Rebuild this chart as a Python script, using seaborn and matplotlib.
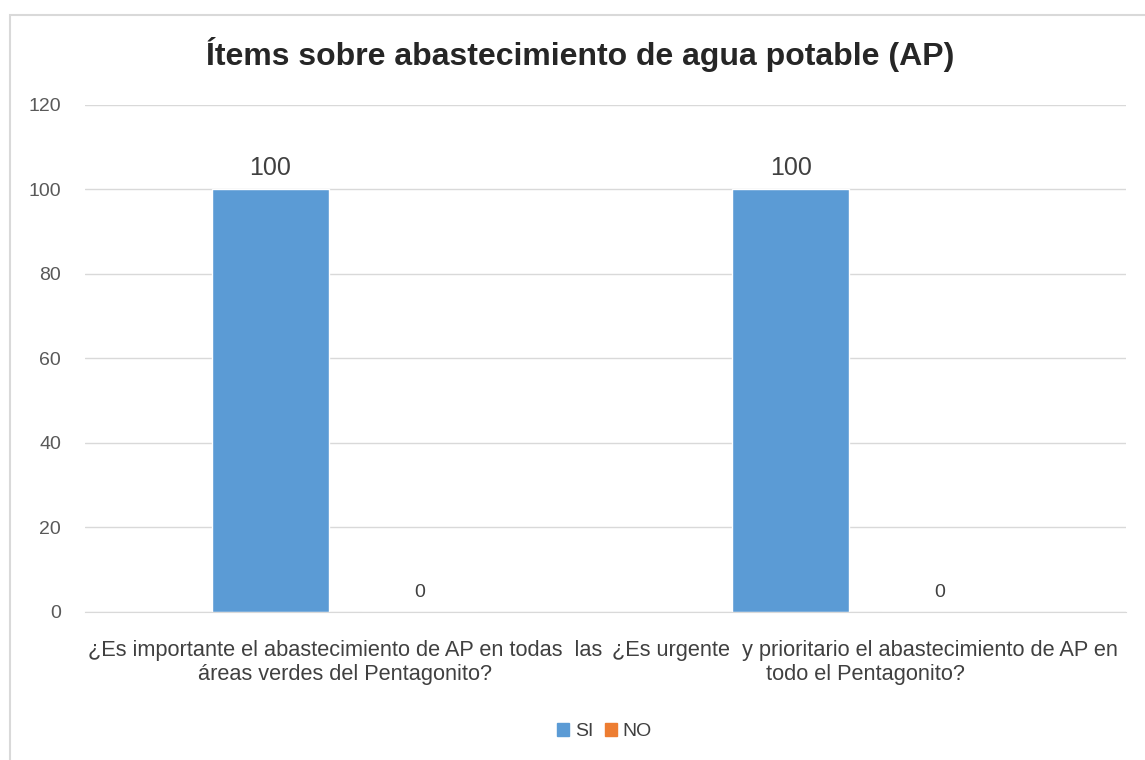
import matplotlib
matplotlib.use("Agg")
import matplotlib.pyplot as plt
import matplotlib.patches as mpatches
import seaborn as sns
import pandas as pd

items = [
    "¿Es importante el abastecimiento de AP en todas  las\náreas verdes del Pentagonito?",
    "¿Es urgente  y prioritario el abastecimiento de AP en\ntodo el Pentagonito?",
]
series = ["SI", "NO"]
si_values = [100, 100]
no_values = [0, 0]
colors = ["#5B9BD5", "#ED7D31"]

df = pd.DataFrame({
    "item": items * 2,
    "resp": ["SI"] * len(items) + ["NO"] * len(items),
    "valor": si_values + no_values,
})

sns.set_style("white")
plt.rcParams["font.family"] = ["Liberation Sans", "DejaVu Sans"]

fig = plt.figure(figsize=(11.45, 7.6), dpi=100)
ax = fig.add_axes([0.074, 0.195, 0.909, 0.667])

sns.barplot(data=df, x="item", y="valor", hue="resp", hue_order=series,
            palette=colors, width=0.573, gap=0.215, ax=ax, legend=False,
            saturation=1)

# etiquetas: las del SI mas grandes que las del NO
ax.bar_label(ax.containers[0], fmt="%d", padding=7, fontsize=18, color="#404040")
ax.bar_label(ax.containers[1], fmt="%d", padding=8, fontsize=14, color="#404040")

ax.set_ylim(0, 120)
ax.set_yticks(range(0, 121, 20))
ax.set_xlim(-0.5, 1.5)
ax.grid(axis="y", color="#d9d9d9", linewidth=1)
ax.set_axisbelow(True)
for s in ["top", "right", "left"]:
    ax.spines[s].set_visible(False)
ax.spines["bottom"].set_color("#d9d9d9")
ax.set_xlabel("")
ax.set_ylabel("")
ax.tick_params(axis="y", length=0, labelsize=14, labelcolor="#595959", pad=17)
ax.tick_params(axis="x", length=0, labelsize=15.7, labelcolor="#404040", pad=20)

fig.text(0.507, 0.928, "Ítems sobre abastecimiento de agua potable (AP)",
         ha="center", va="center", fontsize=23, fontweight="bold")

handles = [mpatches.Patch(color=c, label=s) for s, c in zip(series, colors)]
fig.legend(handles=handles, loc="center", bbox_to_anchor=(0.528, 0.037), ncol=2,
           frameon=False, fontsize=14, handlelength=0.6, handleheight=0.6,
           handletextpad=0.3, columnspacing=0.6, labelcolor="#404040")

fig.patches.append(mpatches.Rectangle((0.009, -0.01), 1.0, 0.99,
                   transform=fig.transFigure, fill=False,
                   edgecolor="#d9d9d9", linewidth=1.5))

fig.savefig("out.png", dpi=100)
